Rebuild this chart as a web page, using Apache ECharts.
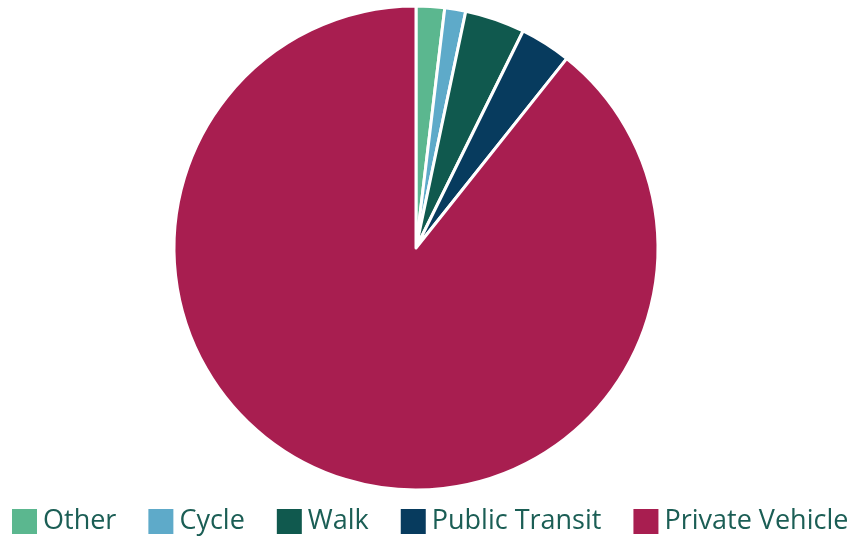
<!DOCTYPE html>
<html>
<head>
<meta charset="utf-8">
<script src="https://cdn.jsdelivr.net/npm/echarts@6/dist/echarts.min.js"></script>
<style>
  html, body { margin: 0; padding: 0; background: #fff; }
  #chart { width: 850px; height: 536px; }
</style>
</head>
<body>
<div id="chart"></div>
<script>
// mode share values (%)
const categories = ["Other", "Cycle", "Walk", "Public Transit", "Private Vehicle"];
const shares = [1.9, 1.4, 4.0, 3.4, 89.3];
const colors = ["#5bb78f", "#5eaac9", "#10594e", "#073b5e", "#a81e50"];

let myChart = echarts.init(document.getElementById("chart"));

myChart.setOption({
  animation: false,
  color: colors,
  legend: {
    left: 12,
    top: 508,
    padding: 0,
    itemWidth: 25,
    itemHeight: 25,
    itemGap: 32,
    icon: "rect",
    itemStyle: { borderWidth: 0 },
    textStyle: {
      fontFamily: "Open Sans",
      fontSize: 27,
      color: "#1b5e55",
      padding: [0, 0, 0, 1]
    },
    data: categories
  },
  series: [
    {
      type: "pie",
      center: [416, 248],
      radius: 242,
      startAngle: 90,
      clockwise: true,
      label: { show: false },
      labelLine: { show: false },
      itemStyle: { borderColor: "#fff", borderWidth: 3 },
      emphasis: { disabled: true },
      data: categories.map((name, i) => ({ name: name, value: shares[i] }))
    }
  ]
});
</script>
</body>
</html>
